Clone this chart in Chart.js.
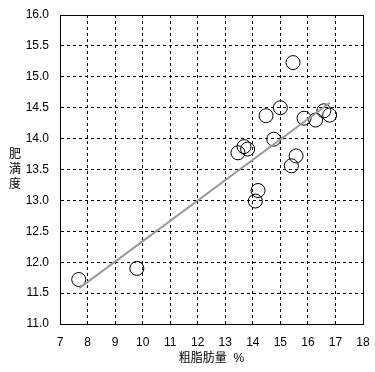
<!DOCTYPE html>
<html>
<head>
<meta charset="utf-8">
<script src="https://cdn.jsdelivr.net/npm/chart.js@4.4.0/dist/chart.umd.min.js"></script>
<style>
  html, body { margin: 0; padding: 0; background: #fff; }
  #wrap { width: 375px; height: 372px; position: relative; }
</style>
</head>
<body>
<div id="wrap"><canvas id="grafico"></canvas></div>
<script>
/* datos */
var grasa = [7.68, 9.79, 13.46, 13.68, 13.81, 14.09, 14.19, 14.48, 14.76, 15.0, 15.4, 15.46, 15.57, 15.86, 16.28, 16.58, 16.79];
var obesidad = [11.72, 11.90, 13.77, 13.87, 13.83, 12.99, 13.16, 14.37, 13.99, 14.50, 13.56, 15.23, 13.72, 14.33, 14.30, 14.45, 14.38];
var tendenciaX = [7.7, 16.8];
var tendenciaY = [11.58, 14.58];
var ticksX = [7, 18, 1];
var ticksY = [11, 16, 0.5];

var fuente = "'Liberation Sans', 'Noto Sans CJK JP', sans-serif";

/* marco sólido y título vertical */
var marco = {
    id: "marco",
    afterDraw: function(chart) {
        var ctx = chart.ctx;
        var a = chart.chartArea;
        ctx.save();
        ctx.strokeStyle = "#000";
        ctx.lineWidth = 1;
        ctx.setLineDash([]);
        var l = Math.round(a.left) + 0.5, t = Math.round(a.top) + 0.5;
        var r = Math.round(a.right) + 0.5, b = Math.round(a.bottom) + 0.5;
        ctx.strokeRect(l, t, r - l, b - t);
        ctx.fillStyle = "#000";
        ctx.font = "12px " + fuente;
        ctx.textAlign = "center";
        ctx.textBaseline = "middle";
        var letras = ["肥", "満", "度"];
        var cy = (a.top + a.bottom) / 2;
        for (var i = 0; i < letras.length; i++) {
            ctx.fillText(letras[i], 15, cy + (i - 1) * 15);
        }
        ctx.restore();
    }
};

function puntos(xs, ys) {
    var res = [];
    for (var i = 0; i < xs.length; i++) res.push({x: xs[i], y: ys[i]});
    return res;
}

function cargaGrafico() {
    var datos = {
        datasets: [{
            type: "line",
            data: puntos(tendenciaX, tendenciaY),
            borderColor: "#9a9a9a",
            borderWidth: 2,
            pointRadius: 0,
            fill: false
        }, {
            type: "scatter",
            data: puntos(grasa, obesidad),
            pointRadius: 7,
            pointHoverRadius: 7,
            borderColor: "#000",
            borderWidth: 1,
            backgroundColor: "rgba(0,0,0,0)"
        }]
    };

    var config = {
        type: "scatter",
        data: datos,
        options: {
            responsive: true,
            maintainAspectRatio: false,
            animation: false,
            layout: { padding: { left: 0, top: 15, right: 12, bottom: 6 } },
            plugins: { legend: { display: false }, tooltip: { enabled: false } },
            scales: {
                x: {
                    type: "linear",
                    min: ticksX[0],
                    max: ticksX[1],
                    ticks: { stepSize: ticksX[2], padding: 11, color: "#000", font: { family: fuente, size: 12 } },
                    grid: { color: "#000", lineWidth: 1, drawTicks: false },
                    border: { display: true, color: "#000", width: 1, dash: [3, 3] },
                    title: { display: true, text: "粗脂肪量  %", color: "#000", padding: { top: 1, bottom: 0 }, font: { family: fuente, size: 12 } },
                    afterFit: function(scale) {
                        scale.height = 42;
                        scale.paddingLeft = 0;
                        scale.paddingRight = 0;
                    }
                },
                y: {
                    type: "linear",
                    min: ticksY[0],
                    max: ticksY[1],
                    ticks: {
                        stepSize: ticksY[2], padding: 11, color: "#000", font: { family: fuente, size: 12 },
                        callback: function(v) { return v.toFixed(1); }
                    },
                    grid: { color: "#000", lineWidth: 1, drawTicks: false },
                    border: { display: true, color: "#000", width: 1, dash: [3, 3] },
                    afterFit: function(scale) {
                        scale.width = 60;
                        scale.paddingTop = 0;
                        scale.paddingBottom = 0;
                    }
                }
            }
        },
        plugins: [marco]
    };
    new Chart(document.getElementById("grafico").getContext("2d"), config);
}

cargaGrafico();
</script>
</body>
</html>
